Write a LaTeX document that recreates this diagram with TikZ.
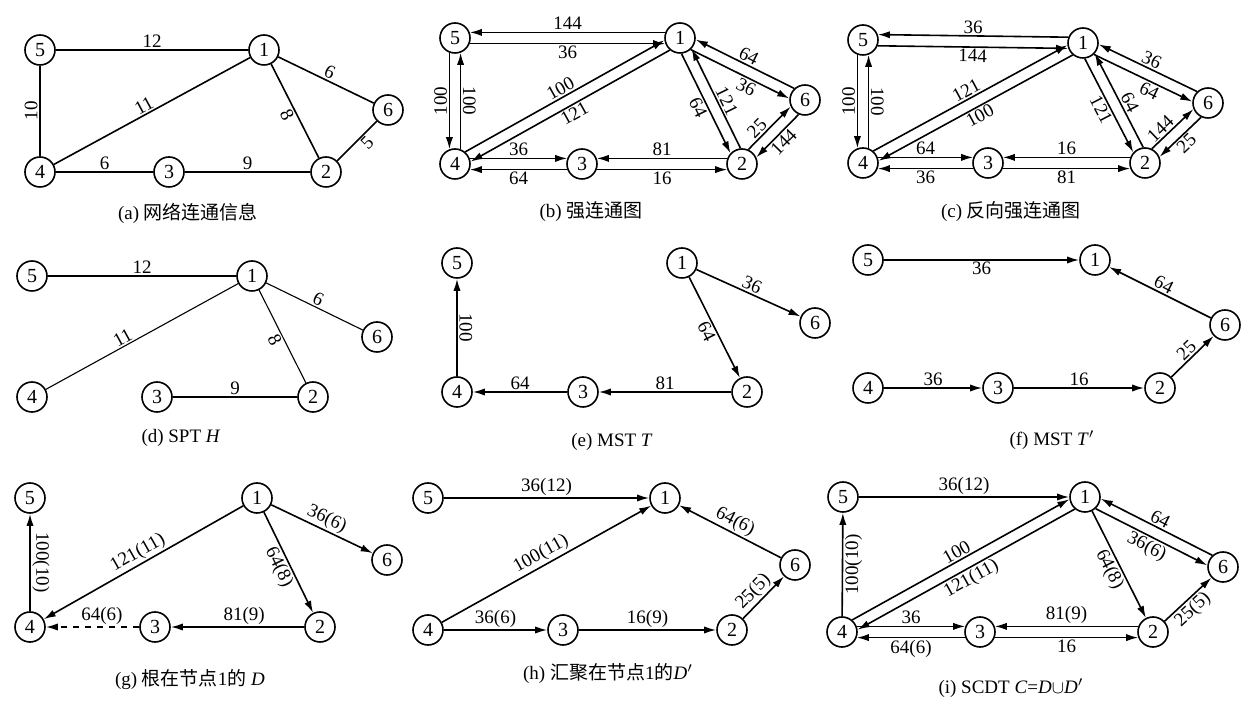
\documentclass[tikz,border=0pt]{standalone}
\usepackage{fontspec}
\setmainfont{Liberation Serif}
\newfontfamily\cjk{Noto Sans CJK SC}
\usetikzlibrary{arrows.meta,calc}

\tikzset{
  vertex/.style={circle, draw, line width=0.8pt, minimum size=15pt, inner sep=0pt,
    font=\fontsize{10}{10}\selectfont},
  link/.style={line width=0.8pt},
  tlink/.style={line width=0.55pt},
  arr/.style={link, -{Latex[length=6pt,width=3.6pt]}},
  lanearr/.style={arr, shorten <=7.4pt, shorten >=7.4pt},
  lbl/.style={font=\fontsize{9.5}{10}\selectfont, inner sep=0.8pt},
  slbl/.style={lbl, sloped},
  capt/.style={font=\fontsize{9.5}{11}\selectfont},
}

\begin{document}
\begin{tikzpicture}[x=0.5pt,y=-0.5pt]
  \newcommand{\lanegap}{2.8pt}
  % arrow on the left / right side of the line from #1 to #2
  \newcommand{\lanel}[4]{
    \draw[lanearr] ($(#1)!\lanegap!90:(#2)$) -- node[#3]{#4} ($(#2)!\lanegap!-90:(#1)$);
  }
  \newcommand{\laner}[4]{
    \draw[lanearr] ($(#1)!\lanegap!-90:(#2)$) -- node[#3]{#4} ($(#2)!\lanegap!90:(#1)$);
  }

  \useasboundingbox (0,0) rectangle (1244,705);

  % (a)
  \foreach \n/\x/\y in {5/40/50, 1/264/50, 6/388/110, 4/40/172, 3/169/172, 2/326/172}
    \node[vertex] (a\n) at (\x,\y) {\n};
  \draw[link] (a5) -- node[slbl,above]{12} (a1);
  \draw[link] (a1) -- node[slbl,above]{6} (a6);
  \draw[link] (a4) -- node[slbl,above,pos=0.48]{11} (a1);
  \draw[link] (a1) -- node[slbl,below]{8} (a2);
  \draw[link] (a5) -- node[lbl,rotate=90,anchor=south]{10} (a4);
  \draw[link] (a4) -- node[slbl,above]{6} (a3);
  \draw[link] (a3) -- node[slbl,above]{9} (a2);
  \draw[link] (a2) -- node[slbl,below,pos=0.6]{5} (a6);
  \node[capt] (capa) at (188,213) {(a) {\cjk 网络连通信息}};

  % (b)
  \foreach \n/\x/\y in {5/455/38, 1/680/38, 6/805/100, 4/455/164, 3/582/164, 2/742/164}
    \node[vertex] (b\n) at (\x,\y) {\n};
  \laner{b5}{b1}{slbl,below}{36}
  \laner{b1}{b5}{slbl,above}{144}
  \laner{b5}{b4}{lbl,rotate=90,anchor=south}{100}
  \laner{b4}{b5}{lbl,rotate=-90,anchor=south}{100}
  \lanel{b4}{b1}{slbl,above}{100}
  \lanel{b1}{b4}{slbl,below}{121}
  \lanel{b4}{b3}{slbl,above}{36}
  \lanel{b3}{b4}{slbl,below}{64}
  \laner{b2}{b3}{slbl,above}{81}
  \laner{b3}{b2}{slbl,below}{16}
  \laner{b1}{b2}{slbl,below}{64}
  \laner{b2}{b1}{slbl,above,pos=0.45}{121}
  \laner{b1}{b6}{slbl,below,pos=0.58}{36}
  \laner{b6}{b1}{slbl,above}{64}
  \lanel{b2}{b6}{slbl,above,pos=0.4}{25}
  \lanel{b6}{b2}{slbl,below}{144}
  \node[capt] (capb) at (591,212) {(b) {\cjk 强连通图}};

  % (c)
  \foreach \n/\x/\y in {5/863/40, 1/1083/43, 6/1208/103, 4/863/163, 3/988/163, 2/1145/163}
    \node[vertex] (c\n) at (\x,\y) {\n};
  \laner{c5}{c1}{slbl,below}{144}
  \laner{c1}{c5}{slbl,above}{36}
  \laner{c5}{c4}{lbl,rotate=90,anchor=south}{100}
  \laner{c4}{c5}{lbl,rotate=-90,anchor=south}{100}
  \lanel{c4}{c1}{slbl,above}{121}
  \lanel{c1}{c4}{slbl,below}{100}
  \lanel{c4}{c3}{slbl,above}{64}
  \lanel{c3}{c4}{slbl,below}{36}
  \laner{c2}{c3}{slbl,above}{16}
  \laner{c3}{c2}{slbl,below}{81}
  \laner{c1}{c2}{slbl,below}{121}
  \laner{c2}{c1}{slbl,above,pos=0.45}{64}
  \laner{c1}{c6}{slbl,below,pos=0.58}{64}
  \laner{c6}{c1}{slbl,above}{36}
  \lanel{c2}{c6}{slbl,above,pos=0.4}{144}
  \lanel{c6}{c2}{slbl,below}{25}
  \node[capt] (capc) at (1011,212) {(c) {\cjk 反向强连通图}};

  % (d)
  \foreach \n/\x/\y in {5/32/276, 1/252/276, 6/377/337, 4/32/397, 3/157/397, 2/313/397}
    \node[vertex] (d\n) at (\x,\y) {\n};
  \draw[tlink] (d5) -- node[slbl,above]{12} (d1);
  \draw[tlink] (d1) -- node[slbl,above]{6} (d6);
  \draw[tlink] (d4) -- node[slbl,above,pos=0.42]{11} (d1);
  \draw[tlink] (d1) -- node[slbl,below]{8} (d2);
  \draw[tlink] (d3) -- node[slbl,above]{9} (d2);
  \node[capt] (capd) at (181,438) {(d) SPT \textit{H}};

  % (e)
  \foreach \n/\x/\y in {5/457/263, 1/682/263, 6/815/323, 4/457/392, 3/583/392, 2/747/392}
    \node[vertex] (e\n) at (\x,\y) {\n};
  \draw[arr] (e4) -- node[lbl,rotate=-90,anchor=south]{100} (e5);
  \draw[arr] (e3) -- node[slbl,above]{64} (e4);
  \draw[arr] (e2) -- node[slbl,above]{81} (e3);
  \draw[arr] (e1) -- node[slbl,below]{64} (e2);
  \draw[arr] (e1) -- node[slbl,above]{36} (e6);
  \node[capt] (cape) at (612,442) {(e) MST \textit{T}};

  % (f)
  \foreach \n/\x/\y in {5/868/260, 1/1095/260, 6/1225/325, 4/868/388, 3/998/388, 2/1160/388}
    \node[vertex] (f\n) at (\x,\y) {\n};
  \draw[arr] (f5) -- node[slbl,below]{36} (f1);
  \draw[arr] (f6) -- node[slbl,above]{64} (f1);
  \draw[arr] (f2) -- node[slbl,above]{25} (f6);
  \draw[arr] (f4) -- node[slbl,above]{36} (f3);
  \draw[arr] (f3) -- node[slbl,above]{16} (f2);
  \node[capt] (capf) at (1052,440) {(f) MST \textit{T}$'$};

  % (g)
  \foreach \n/\x/\y in {5/30/498, 1/257/498, 6/387/560, 4/30/627, 3/155/627, 2/320/627}
    \node[vertex] (g\n) at (\x,\y) {\n};
  \draw[arr] (g4) -- node[lbl,rotate=-90,anchor=south]{100(10)} (g5);
  \draw[arr] (g1) -- node[slbl,above]{121(11)} (g4);
  \draw[arr] (g1) -- node[slbl,below]{64(8)} (g2);
  \draw[arr] (g1) -- node[slbl,above]{36(6)} (g6);
  \draw[arr] (g2) -- node[slbl,above,pos=0.45]{81(9)} (g3);
  \draw[arr,dashed] (g3) -- node[slbl,above,pos=0.4]{64(6)} (g4);
  \node[capt] (capg) at (190,680) {(g) {\cjk 根在节点}1{\cjk 的} \textit{D}};

  % (h)
  \foreach \n/\x/\y in {5/428/498, 1/665/498, 6/795/565, 4/428/630, 3/563/630, 2/732/630}
    \node[vertex] (h\n) at (\x,\y) {\n};
  \draw[arr] (h5) -- node[slbl,above]{36(12)} (h1);
  \draw[arr] (h4) -- node[slbl,above]{100(11)} (h1);
  \draw[arr] (h6) -- node[slbl,above]{64(6)} (h1);
  \draw[arr] (h4) -- node[slbl,above]{36(6)} (h3);
  \draw[arr] (h3) -- node[slbl,above]{16(9)} (h2);
  \draw[arr] (h2) -- node[slbl,above,pos=0.45]{25(5)} (h6);
  \node[capt] (caph) at (608,674) {(h) {\cjk 汇聚在节点}1{\cjk 的}\textit{D}$'$};

  % (i)
  \foreach \n/\x/\y in {5/843/497, 1/1085/497, 6/1223/567, 4/842/632, 3/980/632, 2/1153/632}
    \node[vertex] (i\n) at (\x,\y) {\n};
  \draw[arr] (i5) -- node[slbl,above]{36(12)} (i1);
  \draw[arr] (i4) -- node[lbl,rotate=90,anchor=north]{100(10)} (i5);
  \lanel{i4}{i1}{slbl,above}{100}
  \lanel{i1}{i4}{slbl,below}{121(11)}
  \draw[arr] (i1) -- node[slbl,below]{64(8)} (i2);
  \laner{i1}{i6}{slbl,below}{36(6)}
  \laner{i6}{i1}{slbl,above}{64}
  \draw[arr] (i2) -- node[slbl,below,pos=0.45]{25(5)} (i6);
  \lanel{i4}{i3}{slbl,above}{36}
  \lanel{i3}{i4}{slbl,below}{64(6)}
  \laner{i2}{i3}{slbl,above}{81(9)}
  \laner{i3}{i2}{slbl,below}{16}
  \node[capt] (capi) at (1011,688) {(i) SCDT \textit{C}=\textit{D}$\cup$\textit{D}$'$};
\end{tikzpicture}
\end{document}
